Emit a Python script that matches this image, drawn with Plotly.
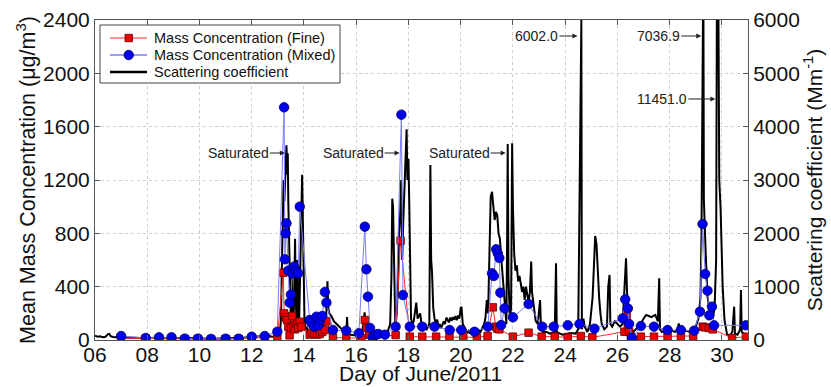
import plotly.graph_objects as go

# ---------------- data ----------------
# Scattering coefficient (Mm^-1), time in day of June 2011
scat_day = [6.00, 6.10, 6.20, 6.30, 6.40, 6.50, 6.55, 6.60, 6.70, 6.80, 6.90, 7.00, 7.2, 7.4, 7.6, 7.8,
            8.0, 8.3, 8.6, 9.0, 9.3, 9.6, 10.0, 10.4, 10.8, 11.2, 11.6, 12.0, 12.3, 12.6, 12.8,
            13.0, 13.08, 13.12, 13.16, 13.2, 13.22, 13.25, 13.28, 13.3, 13.33, 13.36, 13.38, 13.4, 13.43,
            13.46, 13.5, 13.53, 13.56, 13.6, 13.63, 13.66, 13.69, 13.72, 13.75, 13.78, 13.81, 13.84, 13.87,
            13.9, 13.93, 13.96, 13.99, 14.02, 14.06, 14.1, 14.15, 14.2, 14.3, 14.4, 14.5, 14.6, 14.7, 14.8,
            14.85, 14.9, 14.93, 14.97, 15.05, 15.15, 15.25, 15.35, 15.45, 15.55, 15.62, 15.65, 15.68, 15.8,
            15.9, 16.0, 16.1, 16.2, 16.28, 16.32, 16.36, 16.42, 16.5, 16.6, 16.7, 16.8, 16.9, 17.0, 17.1,
            17.2, 17.3, 17.35, 17.38, 17.41, 17.44, 17.47, 17.5, 17.55, 17.6, 17.64, 17.68, 17.72, 17.76,
            17.8, 17.85, 17.9, 17.93, 17.96, 18.0, 18.03, 18.06, 18.1, 18.15, 18.2, 18.3, 18.35, 18.45,
            18.5, 18.6, 18.7, 18.8, 18.84, 18.87, 18.9, 18.95, 19.0, 19.05, 19.1, 19.15, 19.2, 19.25, 19.3,
            19.35, 19.4, 19.45, 19.5, 19.55, 19.6, 19.65, 19.7, 19.75, 19.8, 19.85, 19.9, 19.95, 20.0,
            20.03, 20.08, 20.15, 20.2, 20.25, 20.3, 20.35, 20.4, 20.45, 20.5, 20.55, 20.6, 20.65, 20.7,
            20.75, 20.8, 20.85, 20.9, 20.95, 21.0,
            21.05, 21.1, 21.15, 21.2, 21.25, 21.3, 21.35, 21.4, 21.45, 21.5, 21.55, 21.6, 21.65, 21.7,
            21.75, 21.78, 21.8, 21.83, 21.88, 21.93, 21.97, 22.0, 22.05, 22.1, 22.15, 22.2, 22.25, 22.3,
            22.35, 22.4, 22.45, 22.5, 22.55, 22.6, 22.65, 22.7, 22.73, 22.8, 22.87, 22.95, 23.04, 23.07,
            23.15, 23.3, 23.4, 23.5, 23.6, 23.65, 23.68, 23.8, 23.9, 24.0, 24.2, 24.4, 24.5, 24.62, 24.64,
            24.7, 24.75, 24.85, 24.95, 25.05, 25.1, 25.15, 25.2, 25.25, 25.3, 25.35, 25.4, 25.5, 25.6,
            25.65, 25.7, 25.73, 25.8, 25.9, 26.0, 26.1, 26.2, 26.25, 26.3, 26.33, 26.37, 26.42, 26.5, 26.6,
            26.7, 26.8, 26.9, 27.0, 27.1, 27.2, 27.3, 27.45, 27.55, 27.6, 27.63, 27.7, 27.8, 27.9, 28.0,
            28.1, 28.2, 28.3, 28.35, 28.4, 28.5, 28.6, 28.7, 28.8, 28.9, 29.0, 29.1, 29.18, 29.22, 29.29,
            29.31, 29.34, 29.38, 29.45, 29.55, 29.65, 29.72, 29.78, 29.84, 29.87, 29.9, 29.95, 30.0, 30.03,
            30.1, 30.2, 30.3, 30.4, 30.47, 30.5, 30.6, 30.7, 30.73, 30.76, 30.85, 30.95]
scat_val = [80, 60, 70, 50, 60, 110, 115, 70, 55, 50, 60, 50, 45, 40, 35, 30,
            35, 40, 35, 30, 40, 35, 30, 25, 30, 35, 40, 60, 70, 80, 60,
            70, 120, 400, 1500, 2700, 3000, 2600, 3200, 3400, 3650, 3100, 3500, 2600, 1800,
            800, 300, 1300, 400, 200, 1000, 1900, 700, 300, 1500, 500, 250, 900, 1700,
            2500, 3100, 2200, 900, 400, 200, 250, 150, 120, 100, 150, 120, 180, 220, 300,
            450, 1100, 600, 500, 450, 350, 300, 250, 200, 150, 120, 430, 120, 100,
            90, 100, 80, 120, 300, 520, 350, 250, 150, 100, 120, 80, 100, 90, 110,
            150, 300, 1200, 2650, 2500, 1800, 700, 200, 500, 1000, 2000, 2300, 3000, 1500,
            2200, 3000, 3600, 3950, 3000, 3400, 2600, 1000, 400, 300, 350, 700, 400, 500,
            300, 250, 200, 300, 3280, 1500, 1300, 600, 400, 320, 380, 250, 300, 220, 280,
            350, 300, 420, 380, 330, 420, 360, 430, 380, 450, 370, 460, 400, 600,
            620, 300, 220, 180, 140, 170, 120, 180, 150, 130, 170, 120, 150, 180,
            140, 200, 260, 300, 420, 750,
            500, 1800, 2690, 2780, 2500, 2250, 2400, 2340, 2000, 1900, 1560, 1200, 875, 500,
            300, 2000, 3675, 1200, 400, 600, 3690, 2500, 1600, 1300, 1400, 1100, 1200, 1060,
            900, 1000, 750, 1000, 800, 700, 900, 1470, 900, 600, 360, 300, 750, 300,
            150, 150, 120, 130, 150, 1440, 150, 120, 100, 110, 130, 120, 200, 6002.0, 200,
            400, 250, 150, 300, 800, 1600, 1950, 1800, 1200, 800, 500, 300, 200, 250,
            1000, 1220, 300, 250, 350, 300, 250, 300, 800, 1500, 1530, 900, 500, 200, 150,
            200, 250, 300, 400, 470, 450, 430, 470, 350, 1156, 200, 150, 160, 140, 150,
            180, 150, 200, 312, 150, 140, 180, 160, 150, 200, 250, 400, 800, 2000, 7036.9,
            2625, 2000, 1630, 810, 500, 400, 600, 1500, 11451.0, 6000, 3000, 2470, 1630, 1000,
            375, 100, 80, 150, 625, 120, 100, 200, 937, 150, 120, 100]

# Mass concentration, mixed (ug/m3)
mixed_day = [7.0, 7.94, 8.45, 8.93, 9.44, 9.94, 10.44, 11.0, 11.5, 12.0, 12.5, 12.98,
             13.24, 13.27, 13.30, 13.33, 13.40, 13.45, 13.50, 13.55, 13.62, 13.70, 13.78, 13.84,
             14.22, 14.29, 14.40, 14.48, 14.55, 14.62, 14.70, 14.80, 14.86, 15.11, 15.62, 16.10,
             16.33, 16.39, 16.45, 16.53, 16.63, 16.75, 16.85, 17.10, 17.51, 17.73, 17.79, 18.05,
             18.53, 19.0, 19.58, 20.02, 20.53, 21.04, 21.20, 21.27, 21.36, 21.42, 21.48, 21.52,
             21.55, 21.68, 22.0, 22.6, 23.12, 23.56, 24.1, 24.55, 25.12, 26.2, 26.3, 26.4, 26.45,
             26.56, 26.9, 27.4, 27.92, 28.43, 28.94, 29.16, 29.26, 29.36, 29.45, 29.52, 29.62,
             29.7, 30.92]
mixed_val = [30, 15, 20, 20, 10, 10, 8, 10, 10, 25, 30, 62,
             1745, 605, 800, 875, 520, 280, 340, 500, 550, 520, 500, 1000,
             150, 125, 100, 175, 110, 150, 180, 360, 280, 75, 70, 50,
             850, 530, 325, 90, 20, 40, 45, 40, 100, 1690, 337, 100,
             100, 100, 75, 75, 62, 100, 500, 480, 680, 650, 615, 355,
             112, 237, 170, 270, 100, 100, 110, 120, 85, 162, 305, 237, 120,
             15, 105, 100, 75, 75, 70, 212, 870, 495, 370, 185, 250,
             110, 110]

# Mass concentration, fine (ug/m3)
fine_day = [7.0, 7.94, 8.45, 8.93, 9.44, 9.94, 10.44, 11.0, 11.5, 12.0, 12.5, 12.98,
            13.21, 13.24, 13.30, 13.35, 13.40, 13.45, 13.50, 13.55, 13.60, 13.65, 13.72, 13.78,
            13.84, 13.90, 14.22, 14.30, 14.40, 14.50, 14.60, 14.70, 14.80, 14.86, 15.11, 15.62,
            16.2, 16.33, 16.4, 16.5, 16.65, 17.51, 17.7, 18.05, 18.53, 19.06, 19.57, 20.1, 20.62,
            21.03, 21.23, 21.35, 21.4, 21.48, 22.0, 22.6, 23.1, 23.6, 24.1, 24.6, 25.04, 26.27,
            26.35, 26.4, 26.45, 26.52, 26.9, 27.4, 27.92, 28.43, 28.9, 29.27, 29.35, 29.5, 29.65,
            30.39, 30.92]
fine_val = [15, 12, 12, 12, 8, 8, 5, 8, 8, 15, 20, 20,
            505, 200, 170, 150, 100, 35, 90, 180, 100, 80, 120, 90,
            137, 100, 40, 55, 50, 40, 45, 60, 75, 140, 20, 15,
            15, 150, 90, 40, 20, 37, 745, 25, 25, 25, 25, 25, 20,
            30, 245, 100, 85, 80, 25, 55, 25, 25, 20, 30, 20, 62,
            180, 105, 60, 25, 25, 25, 25, 25, 30, 100, 95, 90, 80,
            15, 25]

x_tickvals = [6, 8, 10, 12, 14, 16, 18, 20, 22, 24, 26, 28, 30]
x_ticktext = ["06", "08", "10", "12", "14", "16", "18", "20", "22", "24", "26", "28", "30"]
left_ticks = [0, 400, 800, 1200, 1600, 2000, 2400]
right_ticks = [0, 1000, 2000, 3000, 4000, 5000, 6000]

series_names = ["Mass Concentration (Fine)", "Mass Concentration (Mixed)", "Scattering coefficient"]
x_title = "Day of June/2011"

# ---------------- figure ----------------
FONT = "Liberation Sans, Arial, sans-serif"
RED_LINE, RED_FILL, RED_EDGE = "#ff2a2a", "#ee0000", "#600000"
BLUE_LINE, BLUE_FILL, BLUE_EDGE = "#7a7aff", "#0000ee", "#000060"

fig = go.Figure()

fig.add_trace(go.Scatter(
    x=fine_day, y=fine_val, yaxis="y2", mode="lines+markers",
    name=series_names[0], showlegend=False,
    line=dict(color=RED_LINE, width=1),
    marker=dict(symbol="square", size=7.5, color=RED_FILL, line=dict(color=RED_EDGE, width=0.8)),
))
fig.add_trace(go.Scatter(
    x=mixed_day, y=mixed_val, yaxis="y2", mode="lines+markers",
    name=series_names[1], showlegend=False,
    line=dict(color=BLUE_LINE, width=1),
    marker=dict(symbol="circle", size=9.5, color=BLUE_FILL, line=dict(color=BLUE_EDGE, width=0.8)),
))
fig.add_trace(go.Scatter(
    x=scat_day, y=scat_val, yaxis="y", mode="lines",
    name=series_names[2], showlegend=False,
    line=dict(color="black", width=2),
))

annots = [
    dict(text="Saturated", x=13.27, y=3506, ax=-15),
    dict(text="Saturated", x=17.66, y=3506, ax=-15),
    dict(text="Saturated", x=21.72, y=3506, ax=-15),
    dict(text="6002.0", x=24.47, y=5700, ax=-18),
    dict(text="7036.9", x=29.21, y=5700, ax=-20),
    dict(text="11451.0", x=29.75, y=4519, ax=-27),
]
for a in annots:
    fig.add_annotation(
        x=a["x"], y=a["y"], xref="x", yref="y", text=a["text"],
        showarrow=True, ax=a["ax"], ay=0, axref="pixel", ayref="pixel",
        xanchor="right", arrowhead=2, arrowsize=1, arrowwidth=1, arrowcolor="#222",
        font=dict(family=FONT, size=14, color="#222"), borderpad=0,
    )

# ---- legend box drawn in plot-area pixel coordinates ----
PX0, PW, PY0, PH = 95, 653, 20, 320  # plot area left, width, top, height


def px(xp):
    return (xp - PX0) / PW


def py(yp):
    return (PY0 + PH - yp) / PH


fig.add_shape(type="rect", xref="paper", yref="paper",
              x0=px(100), x1=px(340), y0=py(83), y1=py(25),
              fillcolor="white", line=dict(color="#444", width=1), layer="above")
rows = [38, 55, 72]
fig.add_shape(type="line", xref="paper", yref="paper", x0=px(110), x1=px(147), y0=py(rows[0]), y1=py(rows[0]),
              line=dict(color=RED_LINE, width=1))
fig.add_shape(type="line", xref="paper", yref="paper", x0=px(110), x1=px(147), y0=py(rows[1]), y1=py(rows[1]),
              line=dict(color=BLUE_LINE, width=1.5))
fig.add_shape(type="line", xref="paper", yref="paper", x0=px(110), x1=px(147), y0=py(rows[2]), y1=py(rows[2]),
              line=dict(color="black", width=2.5))
fig.add_shape(type="rect", xref="paper", yref="paper", x0=px(125), x1=px(132.5),
              y0=py(rows[0] + 3.75), y1=py(rows[0] - 3.75),
              fillcolor=RED_FILL, line=dict(color=RED_EDGE, width=0.8))
fig.add_shape(type="circle", xref="paper", yref="paper", x0=px(124), x1=px(133.5),
              y0=py(rows[1] + 4.75), y1=py(rows[1] - 4.75),
              fillcolor=BLUE_FILL, line=dict(color=BLUE_EDGE, width=0.8))
for name, r in zip(series_names, rows):
    fig.add_annotation(x=px(152), y=py(r), xref="paper", yref="paper", text=name,
                       showarrow=False, xanchor="left", yanchor="middle",
                       font=dict(family=FONT, size=14.5, color="#111"))

# x-axis title, placed just under the tick labels
fig.add_annotation(x=px(420), y=py(373.5), xref="paper", yref="paper", text=x_title,
                   showarrow=False, xanchor="center", yanchor="middle",
                   font=dict(family=FONT, size=21, color="#111"))

axis_common = dict(
    showline=True, linecolor="#555", linewidth=1, ticks="inside", ticklen=5,
    tickcolor="#555", tickfont=dict(family=FONT, size=21, color="#111"),
    zeroline=False, automargin=False,
)

fig.update_layout(
    width=831, height=387,
    margin=dict(l=95, r=83, t=20, b=47, autoexpand=False),
    paper_bgcolor="white", plot_bgcolor="white",
    showlegend=False,
    xaxis=dict(
        range=[6, 31], tickvals=x_tickvals, ticktext=x_ticktext, mirror="ticks",
        showgrid=True, gridcolor="#cfcfcf", griddash="dot", gridwidth=1,
        ticklabelstandoff=-4,
        **axis_common,
    ),
    yaxis=dict(
        range=[0, 6000], tickvals=right_ticks, side="right",
        showgrid=True, gridcolor="#cfcfcf", griddash="dot", gridwidth=1,
        title=dict(text="Scattering coefficient (Mm<sup>-1</sup>)", font=dict(family=FONT, size=21, color="#111"), standoff=6),
        **axis_common,
    ),
    yaxis2=dict(
        range=[0, 2400], tickvals=left_ticks, side="left", overlaying="y",
        showgrid=False,
        title=dict(text="Mean Mass Concentration (\u03bcg/m<sup>3</sup>)", font=dict(family=FONT, size=21.5, color="#111"), standoff=1),
        **axis_common,
    ),
)

fig.write_html("out.html")
